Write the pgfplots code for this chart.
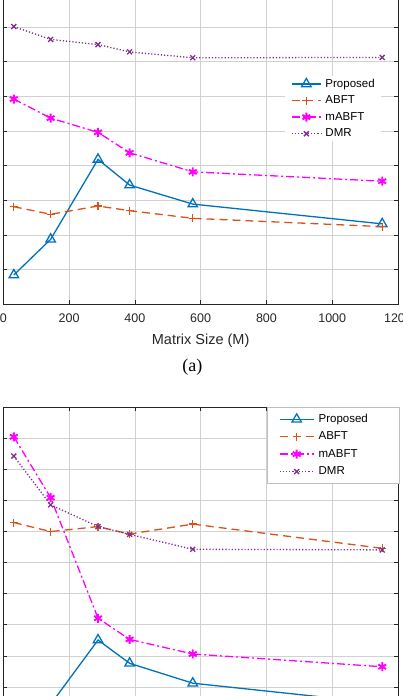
\documentclass[border=0pt]{standalone}
\usepackage{fontspec}
\setmainfont{Liberation Sans}
\newfontfamily\capfont{Liberation Serif}
\usepackage{pgfplots}
\pgfplotsset{compat=1.18}
\definecolor{cP}{rgb}{0,0.447,0.741}
\definecolor{cA}{rgb}{0.85,0.325,0.098}
\definecolor{cM}{rgb}{1,0,1}
\definecolor{cD}{rgb}{0.494,0.184,0.556}
\definecolor{axc}{rgb}{0.15,0.15,0.15}
\pgfplotsset{
  mystyle/.style={
    scale only axis, width=394.7pt,
    xmin=0, xmax=1200, xtick={0,200,...,1200},
    ymin=0, ymax=10, ytick={0,...,10}, yticklabels={},
    grid=major, major grid style={black!18, line width=0.6pt},
    axis line style={axc, line width=0.6pt},
    tick style={axc, line width=0.6pt},
    tick align=inside, major tick length=4pt,
    ticklabel style={font=\fontsize{12.5}{14}\selectfont, text=axc},
    /pgf/number format/assume math mode=true,
    /pgf/number format/1000 sep={},
    scaled ticks=false,
    legend cell align=left,
    clip mode=individual,
  },
  sP/.style={cP, line width=1.3pt, mark=triangle, mark size=5.5pt, mark options={solid, line width=1.3pt}},
  sA/.style={cA, line width=1.3pt, dash pattern=on 8pt off 5pt, mark=+, mark size=4pt, mark options={solid, line width=1.3pt}},
  sM/.style={cM, line width=1.3pt, dash pattern=on 8pt off 3pt on 2pt off 3pt, mark=asterisk, mark size=4.5pt, mark options={solid, line width=1.9pt}},
  sD/.style={cD, line width=1.3pt, dash pattern=on 1.2pt off 2pt, mark=x, mark size=3.5pt, mark options={solid, line width=1.3pt}},
}
\begin{document}
\begin{tikzpicture}
\useasboundingbox (0,0) rectangle (402pt,696pt);
\clip (0,0) rectangle (402pt,696pt);
% ---------- (a) ----------
\begin{axis}[mystyle,
  at={(3.3pt,391.7pt)}, anchor=south west, height=346.7pt,
  xticklabel style={yshift=-6pt},
  xlabel={Matrix Size (M)},
  xlabel style={font=\fontsize{14.5}{16}\selectfont, text=axc, yshift=-4pt},
  legend image code/.code={\draw[mark repeat=2,mark phase=2] plot coordinates {(0pt,0pt) (14.5pt,0pt) (29pt,0pt)};},
  legend style={at={(0.7137,0.6585)}, anchor=north west, draw=none, fill=white,
    font=\fontsize{11.5}{13}\selectfont, inner xsep=6pt, inner ysep=2pt,
    nodes={inner sep=0pt, text height=9pt, text depth=2.5pt},
    row sep=5.1pt, column sep=4pt},
]
\addplot[sP] coordinates {(32,0.845)(144,1.875)(288,4.18)(384,3.44)(576,2.89)(1152,2.32)};
\addplot[sA] coordinates {(32,2.815)(144,2.596)(288,2.835)(384,2.70)(576,2.48)(1152,2.24)};
\addplot[sM] coordinates {(32,5.92)(144,5.37)(288,4.96)(384,4.37)(576,3.82)(1152,3.55)};
\addplot[sD] coordinates {(32,8.01)(144,7.64)(288,7.49)(384,7.28)(576,7.11)(1152,7.12)};
\legend{Proposed,ABFT,mABFT,DMR}
\node[font=\capfont\fontsize{18}{20}\selectfont] at (rel axis cs:0.479,-0.18) {(a)};
\end{axis}
% ---------- (b) ----------
\begin{axis}[mystyle,
  at={(3.3pt,288.7pt)}, anchor=north west, height=310.7pt,
  xticklabels={},
  legend image code/.code={\draw[mark repeat=2,mark phase=2] plot coordinates {(0pt,0pt) (17pt,0pt) (34pt,0pt)};},
  legend style={at={(0.6674,1)}, anchor=north west, draw=black!25, line width=0.6pt, fill=white,
    font=\fontsize{11.5}{13}\selectfont, inner xsep=12pt, inner ysep=6pt,
    nodes={inner sep=0pt, text height=9pt, text depth=2.5pt},
    row sep=5.9pt, column sep=4.3pt},
]
\addplot[sP] coordinates {(32,0.15)(144,0.44)(288,2.51)(384,1.76)(576,1.12)(1152,0.47)};
\addplot[sA] coordinates {(32,6.29)(144,6.0)(288,6.16)(384,5.92)(576,6.24)(1152,5.46)};
\addplot[sM] coordinates {(32,9.05)(144,7.09)(288,3.21)(384,2.53)(576,2.06)(1152,1.65)};
\addplot[sD] coordinates {(32,8.43)(144,6.86)(288,6.16)(384,5.91)(576,5.43)(1152,5.41)};
\legend{\makebox[69pt][l]{Proposed},\makebox[69pt][l]{ABFT},\makebox[69pt][l]{mABFT},\makebox[69pt][l]{DMR}}
\end{axis}
\end{tikzpicture}
\end{document}
